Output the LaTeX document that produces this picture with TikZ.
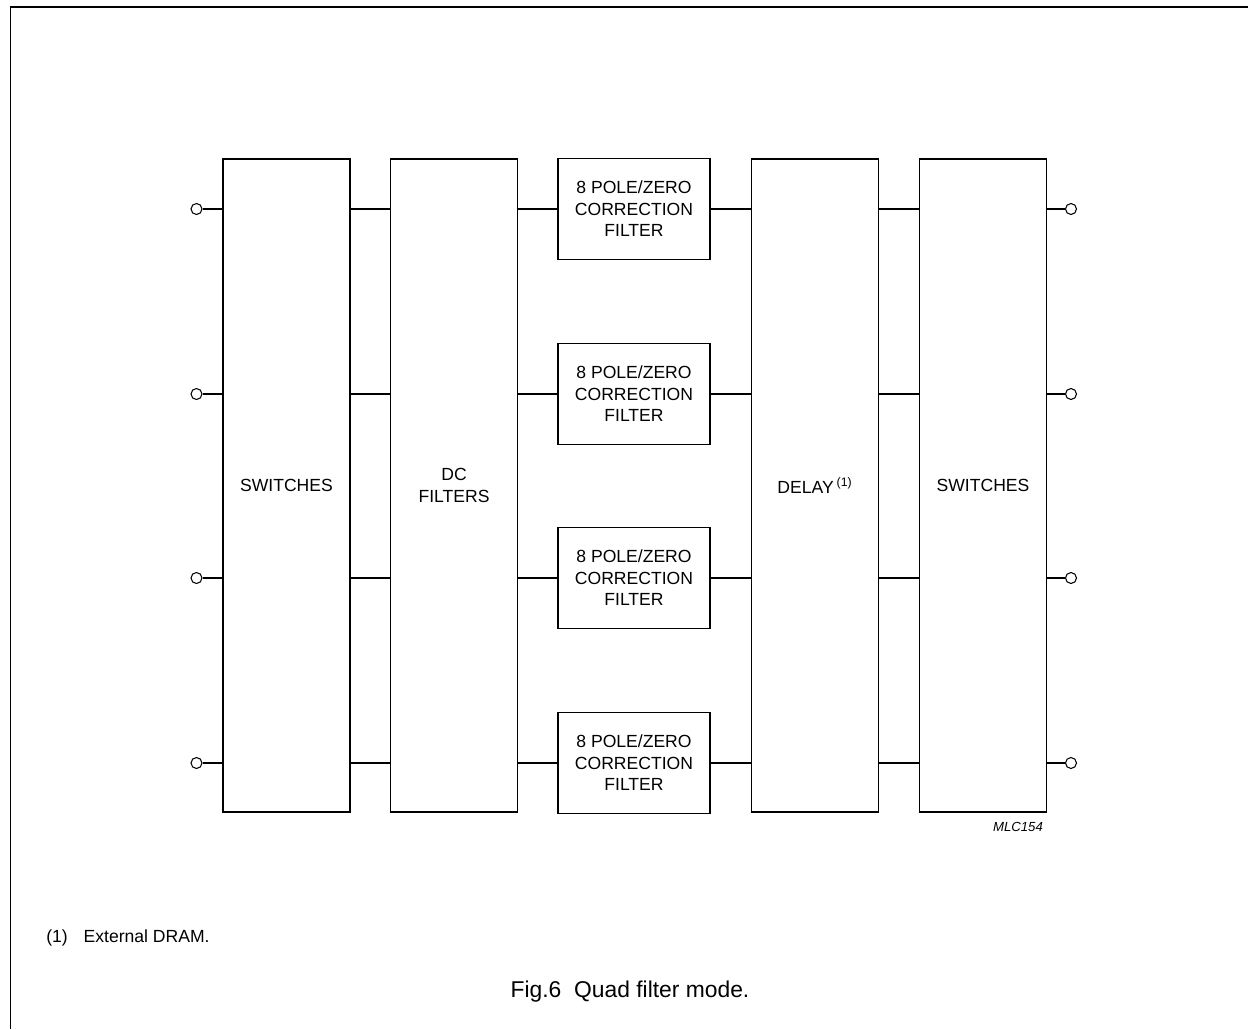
\documentclass[tikz,border=0pt]{standalone}
\usepackage{fontspec}
\setmainfont{Liberation Sans}
\usepackage{tikz}

\begin{document}
\begin{tikzpicture}[x=0.02cm,y=-0.02cm]
      \tikzstyle{block}=[draw,line width=1.1pt,inner sep=0pt,align=center,
			 font=\fontsize{10}{12.3}\selectfont]
      \tikzstyle{tall}=[block,minimum width=2.54cm,minimum height=13.06cm]
      \tikzstyle{filt}=[block,minimum width=3.04cm,minimum height=2.02cm]
      \tikzstyle{pin}=[draw,circle,fill=white,minimum size=0.22cm,
		       inner sep=0pt,line width=0.6pt]
      \tikzstyle{wire}=[line width=0.6pt]
      \useasboundingbox (0,0) rectangle (1248,1029);
      \draw[line width=0.9pt] (10.5,1029) -- (10.5,7) -- (1248,7);
      \node (switchin) [tall] at (286.5,485.5) {SWITCHES};
      \node (dcfilter) [tall] at (454,485.5) {DC\\FILTERS};
      \node (delay) [tall] at (815,485.5) {DELAY\,\textsuperscript{\fontsize{7}{8}\selectfont(1)}};
      \node (switchout) [tall] at (983,485.5) {SWITCHES};
      \foreach \i/\y in {1/209,2/394,3/578,4/763} {
	  \node (filter\i) [filt] at (634,\y) {8 POLE/ZERO\\CORRECTION\\FILTER};
	  \node (in\i) [pin] at (196.5,\y) {};
	  \node (out\i) [pin] at (1071,\y) {};
	  \draw[wire] (in\i) -- (in\i -| switchin.west);
	  \draw[wire] (switchin.east |- in\i) -- (dcfilter.west |- in\i);
	  \draw[wire] (dcfilter.east |- in\i) -- (filter\i.west);
	  \draw[wire] (filter\i.east) -- (delay.west |- in\i);
	  \draw[wire] (delay.east |- in\i) -- (switchout.west |- in\i);
	  \draw[wire] (switchout.east |- out\i) -- (out\i);
      }
      \node (code) [font=\fontsize{7.5}{9}\itshape\selectfont] at (1018,827) {MLC154};
      \node (note) [anchor=west,inner sep=0pt,font=\fontsize{10}{12}\selectfont]
	  at (46,938) {(1)\hspace{9pt}External DRAM.};
      \node (caption) [font=\fontsize{13}{15}\selectfont] at (630,992) {Fig.6\ \ Quad filter mode.};
\end{tikzpicture}
\end{document}
